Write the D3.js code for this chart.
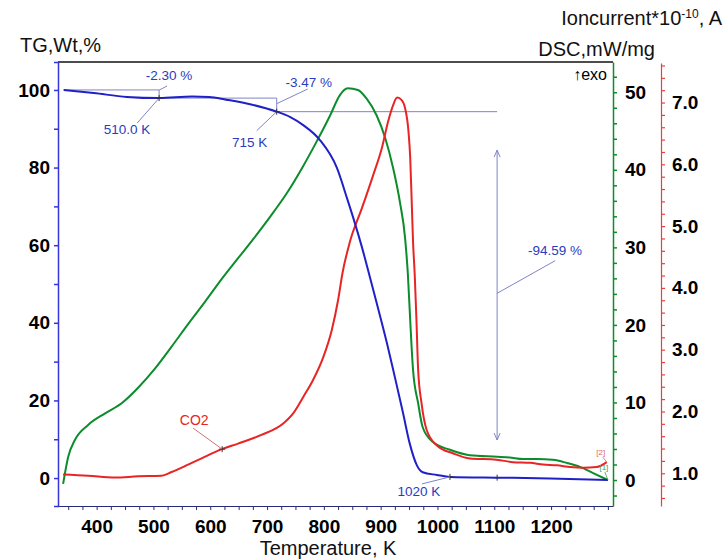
<!DOCTYPE html>
<head>
  <meta charset='utf-8'>
  <style>
      body { margin: 0; background: #fff; }
      text { font-family: 'Liberation Sans', Arial, sans-serif; }
      .tick text { font-size: 19px; font-weight: bold; fill: #000; }
      .title { font-size: 20px; fill: #111; }
      .note { font-size: 13.5px; fill: #2a3cc0; }
      .curve { fill: none; stroke-width: 2px; }
      .guide { fill: none; stroke: #7f84c8; stroke-width: 1px; }
  </style>
</head>
<body>
<script src='https://d3js.org/d3.v7.min.js'></script>
<script>
    // TG (weight %)
    var tgTemp = [342, 395, 453, 510, 568, 598, 628, 674, 717, 741, 763, 793, 823, 841, 855, 867, 878, 893, 911, 925, 939, 951, 964, 974, 999, 1022, 1110, 1198, 1300];
    var tgVal  = [100, 99.2, 98.2, 97.9, 98.3, 98.2, 97.5, 96.2, 94.4, 93.0, 91.0, 87.1, 79.9, 72.0, 65.5, 59.5, 53.5, 45.1, 34.8, 26.0, 17.0, 9.0, 3.2, 1.5, 0.8, 0.3, 0.1, -0.1, -0.5];

    // DSC (mW/mg), green curve
    var dscTemp = [341, 350, 362, 385, 415, 444, 473, 503, 532, 561, 591, 620, 649, 675, 705, 735, 763, 787, 811, 828, 842, 860, 875, 893, 908, 922, 934, 943, 948, 952, 957, 966, 974, 992, 1022, 1057, 1105, 1127, 1151, 1175, 1203, 1228, 1251, 1274, 1300];
    var dscVal  = [-0.5, 3.0, 5.2, 7.1, 8.6, 9.9, 11.9, 14.4, 17.2, 20.1, 23.0, 25.9, 28.6, 31.0, 33.9, 37.0, 40.4, 43.6, 47.0, 49.6, 50.5, 50.3, 49.2, 47.0, 44.1, 40.2, 35.8, 31.2, 26.4, 20.6, 14.2, 9.9, 6.8, 4.9, 3.9, 3.2, 3.0, 2.9, 2.7, 2.7, 2.6, 2.2, 1.7, 0.9, 0.0];

    // ion current CO2 (*10^-10 A), red curve
    var ionTemp = [341, 385, 432, 473, 514, 532, 561, 591, 620, 649, 690, 729, 746, 764, 781, 799, 814, 825, 833, 846, 867, 887, 902, 913, 922, 929, 937, 943, 949, 952, 955, 957, 960, 963, 966, 972, 981, 999, 1028, 1057, 1104, 1133, 1163, 1186, 1210, 1234, 1257, 1280, 1298];
    var ionVal  = [0.98, 0.96, 0.93, 0.95, 0.96, 1.02, 1.14, 1.27, 1.39, 1.48, 1.62, 1.81, 1.97, 2.24, 2.51, 2.88, 3.32, 3.80, 4.25, 4.75, 5.29, 5.83, 6.26, 6.69, 6.96, 7.08, 7.04, 6.91, 6.53, 6.11, 5.30, 4.75, 4.21, 3.48, 2.67, 2.13, 1.70, 1.45, 1.32, 1.24, 1.22, 1.18, 1.17, 1.14, 1.13, 1.10, 1.09, 1.10, 1.18];

    var xTicks = d3.range(350, 1301, 25),
        xLabels = [400, 500, 600, 700, 800, 900, 1000, 1100, 1200],
        tgTicks = d3.range(0, 101, 10),
        dscTicks = d3.range(-2, 53, 2),
        ionTicks = d3.range(6, 77, 2).map(function(d) { return d / 10; });

    // step analysis marks
    var steps = [
        {t0: 342, t1: 510, from: 100, to: 97.9, pct: '-2.30 %', temp: '510.0 K'},
        {t0: 510, t1: 717, from: 97.9, to: 94.4, pct: '-3.47 %', temp: '715 K'}
    ];

    var W = 726, H = 560,
        L = 58, R = 613, T = 62, B = 506,
        BLUE = '#2020c8', GREEN = '#0c8c2c', RED = '#e82424';

    var x = d3.scaleLinear().domain([332, 1309]).range([L, R]),
        yTG = d3.scaleLinear().domain([-7.2, 107.2]).range([B, T]),
        yDSC = d3.scaleLinear().domain([-3.35, 53.9]).range([B, T]),
        yIon = d3.scaleLinear().domain([0.47, 7.64]).range([B, 63]);

    var svg = d3.select('body').append('svg')
        .attr('width', W)
        .attr('height', H);

    // frame top
    svg.append('line')
        .attr('x1', L).attr('x2', R).attr('y1', T).attr('y2', T)
        .attr('stroke', '#111').attr('stroke-width', 1.5);

    // axes
    var bottomAxis = d3.axisBottom(x).tickValues(xTicks).tickSize(4).tickSizeOuter(0)
        .tickFormat(function(d) { return xLabels.indexOf(d) >= 0 ? d : ''; });
    var gx = svg.append('g').attr('transform', 'translate(0,' + B + ')').call(bottomAxis);
    gx.selectAll('path, line').attr('stroke', '#2a2a7a');
    gx.selectAll('text').attr('dy', '1.05em');

    var leftAxis = d3.axisLeft(yTG).tickValues(tgTicks).tickSizeOuter(0)
        .tickSize(4)
        .tickFormat(function(d) { return d % 20 === 0 ? d : ''; });
    var gl = svg.append('g').attr('transform', 'translate(' + L + ',0)').call(leftAxis);
    gl.selectAll('path, line').attr('stroke', '#3434d8').attr('stroke-width', 1.5);
    gl.selectAll('text').attr('x', -8);

    var dscAxis = d3.axisRight(yDSC).tickValues(dscTicks).tickSize(4).tickSizeOuter(0)
        .tickFormat(function(d) { return d % 10 === 0 && d >= 0 ? d : ''; });
    var gd = svg.append('g').attr('transform', 'translate(' + R + ',0)').call(dscAxis);
    gd.selectAll('path, line').attr('stroke', GREEN).attr('stroke-width', 1.5);
    gd.selectAll('text').attr('x', 12);

    var ionAxis = d3.axisRight(yIon).tickValues(ionTicks).tickSize(4).tickSizeOuter(0)
        .tickFormat(function(d) { return Math.abs(d - Math.round(d)) < 1e-6 ? d3.format('.1f')(d) : ''; });
    var gi = svg.append('g').attr('transform', 'translate(661,0)').call(ionAxis);
    gi.selectAll('path, line').attr('stroke', '#e84040').attr('stroke-width', 1.2);
    gi.selectAll('text').attr('x', 11);

    // titles
    svg.append('text').attr('class', 'title').attr('x', 20).attr('y', 52).text('TG,Wt,%');
    svg.append('text').attr('class', 'title').attr('x', 328).attr('y', 555)
        .attr('text-anchor', 'middle').text('Temperature, K');
    svg.append('text').attr('class', 'title').attr('x', 655).attr('y', 56)
        .attr('text-anchor', 'end').text('DSC,mW/mg');
    var ion = svg.append('text').attr('class', 'title').attr('x', 722).attr('y', 25)
        .attr('text-anchor', 'end');
    ion.append('tspan').text('Ioncurrent*10');
    ion.append('tspan').attr('dy', -7).style('font-size', '12px').text('-10');
    ion.append('tspan').attr('dy', 7).text(', A');
    svg.append('text').attr('x', 607).attr('y', 80).attr('text-anchor', 'end')
        .style('font-size', '16px').text('\u2191exo');

    // step guides
    steps.forEach(function(s, i) {
        var px = x(s.t1), py = yTG(s.to);
        svg.append('path').attr('class', 'guide')
            .attr('d', 'M' + x(s.t0) + ',' + yTG(s.from) + 'H' + px + 'V' + py);
        svg.append('path').attr('class', 'guide')
            .attr('d', 'M' + px + ',' + (py - 8) + 'L' + (px + (i ? 31 : 8)) + ',' + (i ? 89 : 86));
        svg.append('text').attr('class', 'note')
            .attr('x', px + (i ? 32 : 10)).attr('y', i ? 87 : 80)
            .attr('text-anchor', 'middle').text(s.pct);
        svg.append('path').attr('class', 'guide')
            .attr('d', 'M' + px + ',' + py + 'L' + (px - (i ? 20 : 22)) + ',' + (py + (i ? 19 : 25)));
        svg.append('text').attr('class', 'note')
            .attr('x', px - (i ? 27 : 32)).attr('y', py + (i ? 35 : 36))
            .attr('text-anchor', 'middle').text(s.temp);
    });
    svg.append('line').attr('class', 'guide')
        .attr('x1', x(717)).attr('x2', x(1105)).attr('y1', yTG(94.4)).attr('y2', yTG(94.4));

    // total loss arrow
    var ax = x(1105), aTop = yTG(84.5), aBot = yTG(9.8);
    svg.append('path').attr('class', 'guide')
        .attr('d', 'M' + ax + ',' + aTop + 'V' + aBot +
            'M' + (ax - 3) + ',' + (aTop + 7) + 'L' + ax + ',' + aTop + 'L' + (ax + 3) + ',' + (aTop + 7) +
            'M' + (ax - 3) + ',' + (aBot - 7) + 'L' + ax + ',' + aBot + 'L' + (ax + 3) + ',' + (aBot - 7));
    svg.append('path').attr('class', 'guide')
        .attr('d', 'M' + ax + ',' + yTG(47.6) + 'L' + (ax + 58) + ',' + yTG(56));
    svg.append('text').attr('class', 'note').attr('x', ax + 58).attr('y', yTG(57.6))
        .attr('text-anchor', 'middle').text('-94.59 %');

    // curves
    function curve(ts, vs, ys, color) {
        var pts = ts.map(function(t, i) { return [t, vs[i]]; });
        svg.append('path').datum(pts).attr('class', 'curve')
            .attr('stroke', color)
            .attr('d', d3.line()
                .x(function(d) { return x(d[0]); })
                .y(function(d) { return ys(d[1]); })
                .curve(d3.curveMonotoneX));
    }
    curve(dscTemp, dscVal, yDSC, GREEN);
    curve(ionTemp, ionVal, yIon, RED);
    curve(tgTemp, tgVal, yTG, BLUE);

    // markers
    function cross(px, py) {
        svg.append('path').attr('stroke', '#333').attr('stroke-width', 1)
            .attr('d', 'M' + (px - 3) + ',' + py + 'H' + (px + 3) + 'M' + px + ',' + (py - 3) + 'V' + (py + 3));
    }
    cross(x(510), yTG(97.9));
    cross(x(717), yTG(94.4));
    cross(x(1022), yTG(0.3));
    cross(x(1105), yTG(0.1));
    cross(x(621), yIon(1.39));

    // 1020 K
    svg.append('path').attr('class', 'guide')
        .attr('d', 'M' + x(1022) + ',' + yTG(0.3) + 'L' + (x(1022) - 28) + ',' + (yTG(0.3) + 7));
    svg.append('text').attr('class', 'note').attr('x', x(1022) - 31).attr('y', yTG(0.3) + 19)
        .attr('text-anchor', 'middle').text('1020 K');

    // CO2 label
    svg.append('path').attr('fill', 'none').attr('stroke', '#d87070').attr('stroke-width', 1)
        .attr('d', 'M' + x(621) + ',' + yIon(1.39) + 'L' + (x(621) - 29) + ',' + (yIon(1.39) - 21));
    svg.append('text').attr('x', x(621) - 28).attr('y', yIon(1.39) - 24)
        .attr('text-anchor', 'middle').style('font-size', '14px').attr('fill', RED).text('CO2');

    // curve tags
    svg.append('path').attr('fill', 'none').attr('stroke', '#e06060').attr('stroke-width', 0.8)
        .attr('d', 'M' + (x(1298) - 4) + ',' + (yIon(1.18) - 5) + 'L' + x(1298) + ',' + yIon(1.18));
    svg.append('text').attr('x', x(1298) - 6).attr('y', yIon(1.18) - 7).attr('text-anchor', 'middle')
        .style('font-size', '8px').attr('fill', '#e06060').text('[2]');
    svg.append('path').attr('fill', 'none').attr('stroke', '#40a050').attr('stroke-width', 0.8)
        .attr('d', 'M' + (x(1300) - 3) + ',' + (yDSC(0) - 8) + 'L' + x(1300) + ',' + yDSC(0));
    svg.append('text').attr('x', x(1300) - 4).attr('y', yDSC(0) - 10).attr('text-anchor', 'middle')
        .style('font-size', '8px').attr('fill', '#40a050').text('[1]');
</script>
</body>
